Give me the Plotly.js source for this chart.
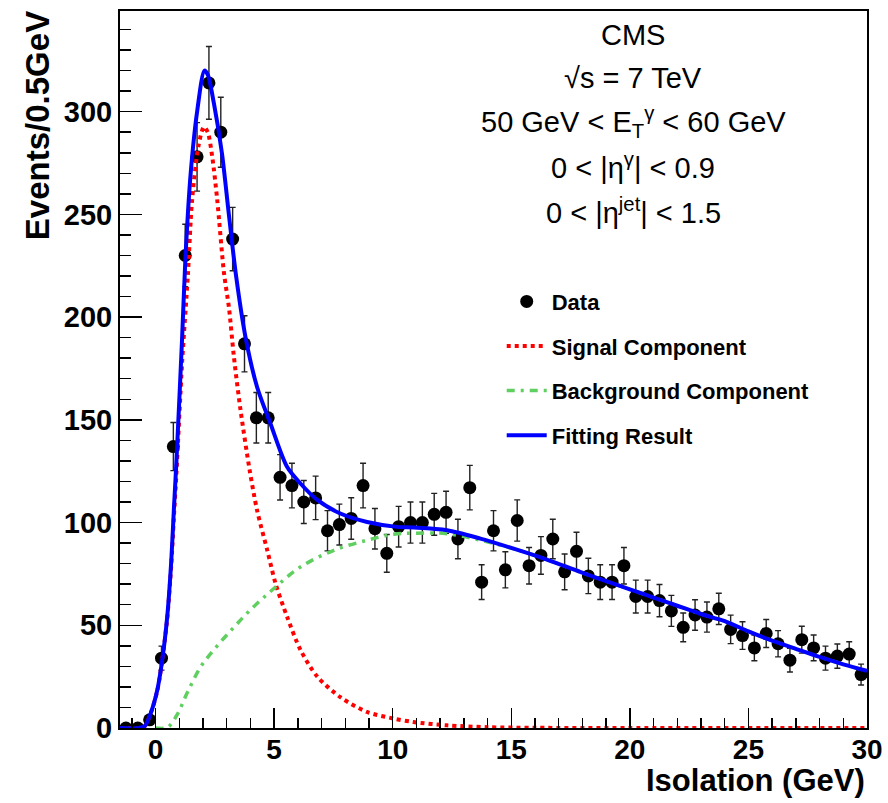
<!DOCTYPE html>
<html>
<head>
<meta charset="utf-8">
<script src="https://cdn.plot.ly/plotly-3.0.1.min.js"></script>
<style>html,body{margin:0;padding:0;background:#fff;}#chart{width:888px;height:803px;}</style>
</head>
<body>
<div id="chart"></div>
<script>
// Data: bin centres (0.5 GeV bins) and event counts
const binCenters = [-1.25,-0.75,-0.25,0.25,0.75,1.25,1.75,2.25,2.75,3.25,3.75,4.25,4.75,5.25,5.75,6.25,6.75,7.25,7.75,8.25,8.75,9.25,9.75,10.25,10.75,11.25,11.75,12.25,12.75,13.25,13.75,14.25,14.75,15.25,15.75,16.25,16.75,17.25,17.75,18.25,18.75,19.25,19.75,20.25,20.75,21.25,21.75,22.25,22.75,23.25,23.75,24.25,24.75,25.25,25.75,26.25,26.75,27.25,27.75,28.25,28.75,29.25,29.75];
const counts = [0,0,4,34,137,230,278,314,290,238,187,151,151,122,118,110,112,96,99,102,118,97,85,98,100,100,104,105,92,117,71,96,77,101,79,84,92,76,86,74,71,71,79,64,64,62,57,49,55,54,58,48,45,39,46,41,33,43,39,34,35,36,26];

// Fit curve
const fitX = [-1.5,-0.7,-0.45,-0.21,0.07,0.28,0.49,0.66,0.77,0.88,1.12,1.26,1.48,1.76,2.06,2.2,2.46,2.8,3.09,3.4,3.79,4.28,4.85,5.55,6.11,6.82,7.79,8.92,10.18,10.9,12.29,13.7,15.1,16.5,17.9,19,20,21,22,23,24,25,26,27,28,29,30];
const fitY = [0,0,1,7,18.4,33,54,81,106,130,190,229,270,300.7,320,318,304,279.6,250,219.6,190.4,166,148,127,119,111,104.4,100.3,97.9,97.6,96.3,92.2,87.3,82,76,71.5,67.5,63.5,59.5,55.5,52,47,42.5,38.5,34.6,31,27.8];

// Signal component
const sigX = [-1.5,-0.7,-0.45,-0.21,0.07,0.28,0.49,0.66,0.77,0.88,1.12,1.36,1.54,1.82,2.04,2.2,2.39,2.6,2.88,3.1,3.3,3.58,3.96,4.28,4.71,5.06,5.55,6.11,6.82,7.79,8.92,10.04,10.88,12.29,14,16,20,30];
const sigY = [0,0,1,7,18,33,53,79,102,124,178,220,257,284,292.6,290,278,257,222,204,181,155,126,106,86.5,70.3,54,38,25,15,7.8,4.6,2.9,1.3,0.4,0.1,0,0];

// Background component
const bkgX = [0,0.5,0.91,1.33,1.9,2.6,3.3,4.0,5.0,6.11,7.52,8.92,10.04,10.88,12.29,13.7,15.1,16.5,17.9,19,20,21,22,23,24,25,26,27,28,29,30];
const bkgY = [0,0.3,6.5,17,29.7,40,49,57.5,68,78.4,86.5,91.4,94.3,94.8,94.6,91.4,87.2,82,76,71.5,67.5,63.5,59.5,55.5,52,47,42.5,38.5,34.6,31,27.8];

const seriesNames = ['Data','Signal Component','Background Component','Fitting Result'];
const infoLines = ['CMS','√s = 7 TeV','50 GeV < E<sub>T</sub><sup>γ</sup> < 60 GeV','0 < |η<sup>γ</sup>| < 0.9','0 < |η<sup>jet</sup>| < 1.5'];
const xTicks = [0,5,10,15,20,25,30];
const yTicks = [0,50,100,150,200,250,300];

const FONT = 'Liberation Sans, Arial, Helvetica, sans-serif';

const traces = [
  {x: binCenters, y: counts, type: 'scatter', mode: 'markers', name: seriesNames[0], legendgroup: 'a',
   marker: {color: '#000', size: 13},
   error_y: {type: 'sqrt', visible: true, color: '#222', thickness: 1.4, width: 3}},
  {x: sigX, y: sigY, type: 'scatter', mode: 'lines', name: seriesNames[1], legendgroup: 'b',
   line: {color: '#ff0000', width: 4, dash: 'dot', shape: 'spline', smoothing: 0.8}},
  {x: bkgX, y: bkgY, type: 'scatter', mode: 'lines', name: seriesNames[2], legendgroup: 'c',
   line: {color: '#5fcf5f', width: 3.5, dash: '8px,6px,3px,6px', shape: 'spline', smoothing: 1}},
  {x: fitX, y: fitY, type: 'scatter', mode: 'lines', name: seriesNames[3], legendgroup: 'd',
   line: {color: '#0000ff', width: 4, shape: 'spline', smoothing: 0.8}}
];

const ys = [0.9665, 0.9066, 0.845, 0.784, 0.721];
const annotations = infoLines.map((t, i) => ({
  text: t, xref: 'paper', yref: 'paper', x: 0.687, y: ys[i], xanchor: 'center', yanchor: 'middle',
  showarrow: false, font: {family: FONT, size: 29, color: '#000'}
}));
annotations.push({text: 'Isolation (GeV)', xref: 'paper', yref: 'paper', x: 1.0, y: -0.073, xanchor: 'right', yanchor: 'middle',
  showarrow: false, font: {family: FONT, size: 31, color: '#000', weight: 'bold'}});
annotations.push({text: 'Events/0.5GeV', xref: 'paper', yref: 'paper', x: -0.111, y: 1.002, xanchor: 'center', yanchor: 'top',
  textangle: -90, showarrow: false, font: {family: FONT, size: 33, color: '#000', weight: 'bold'}});

const layout = {
  width: 888, height: 803,
  margin: {l: 120, r: 21, t: 11, b: 75},
  paper_bgcolor: '#fff', plot_bgcolor: '#fff',
  showlegend: true,
  legend: {x: 0.511, y: 0.624, xanchor: 'left', yanchor: 'top', bgcolor: 'rgba(0,0,0,0)', borderwidth: 0,
    font: {family: FONT, size: 22, color: '#000', weight: 'bold'}, traceorder: 'grouped', tracegroupgap: 13, itemwidth: 40},
  xaxis: {range: [-1.5, 30], tickvals: xTicks, ticktext: xTicks.map(String), ticks: 'inside', ticklen: 20, tickwidth: 1.5, tickcolor: '#000',
    minor: {dtick: 1, ticks: 'inside', ticklen: 10, tickwidth: 1.5, tickcolor: '#000'},
    showline: true, linecolor: '#000', linewidth: 2, mirror: true, showgrid: false, zeroline: false, ticklabelstandoff: -5,
    tickfont: {family: FONT, size: 28, color: '#000', weight: 'bold'}},
  yaxis: {range: [0, 349], tickvals: yTicks, ticktext: yTicks.map(String), ticks: 'inside', ticklen: 22, tickwidth: 1.5, tickcolor: '#000',
    minor: {dtick: 10, ticks: 'inside', ticklen: 11, tickwidth: 1.5, tickcolor: '#000'},
    showline: true, linecolor: '#000', linewidth: 2, mirror: true, showgrid: false, zeroline: false,
    tickfont: {family: FONT, size: 29, color: '#000', weight: 'bold'}},
  annotations: annotations
};

Plotly.newPlot('chart', traces, layout, {displayModeBar: false, staticPlot: true});
</script>
</body>
</html>
